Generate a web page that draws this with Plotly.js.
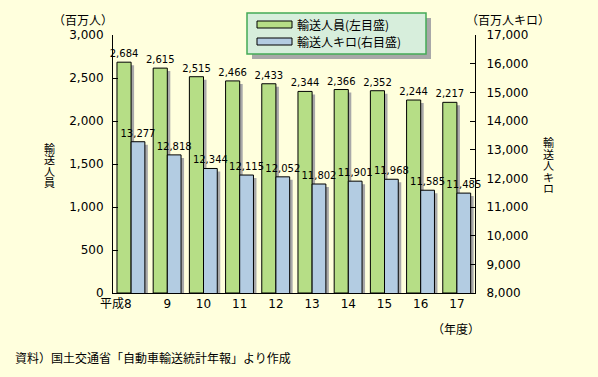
<!DOCTYPE html>
<html><head><meta charset="utf-8">
<script src="https://cdn.plot.ly/plotly-3.0.1.min.js"></script>
<style>html,body{margin:0;padding:0;background:#FFFFDD}</style>
</head><body>
<div id="chart" style="width:598px;height:377px"></div>
<script>
// ---- data ----
const categories = ['平成8','9','10','11','12','13','14','15','16','17'];
const passengers = [2684,2615,2515,2466,2433,2344,2366,2352,2244,2217];      // 百万人 (left axis)
const passengerKm = [13277,12818,12344,12115,12052,11802,11901,11968,11585,11485]; // 百万人キロ (right axis)
const seriesNames = ['輸送人員(左目盛)','輸送人キロ(右目盛)'];
const leftTitle = '輸送人員';
const rightTitle = '輸送人キロ';
const leftRange = [0,3000];
const rightRange = [8000,17000];

// ---- layout geometry ----
const W = 598, H = 377;
const M = {l:113, r:123, t:35, b:84};
const PW = W - M.l - M.r, PH = H - M.t - M.b;
const px = x => (x - M.l) / PW;
const py = y => (M.t + PH - y) / PH;
const FONT = 'DejaVu Sans, Noto Sans CJK JP, sans-serif';
const CJK = 'Noto Sans CJK JP, DejaVu Sans, sans-serif';
const GREEN = '#B6DE86', BLUE = '#B3CCE2', SHADOW = '#A8A8A8';

const xs = categories.map((c,i)=>i);
const tickText = categories.map((c,i)=> i===0 ? c + '\u2007'.repeat(4) : c);
const shadowDx = 3 / (PW / categories.length);
const dL = 3 * (leftRange[1]-leftRange[0]) / PH;
const dR = 3 * (rightRange[1]-rightRange[0]) / PH;
const fmt = v => v.toLocaleString('en-US');

const traces = [
  {type:'bar', x:xs, y:passengers.map(v=>v-dL), offset:-0.39+shadowDx, width:0.39,
   marker:{color:SHADOW}, hoverinfo:'skip', showlegend:false, yaxis:'y'},
  {type:'bar', name:seriesNames[0], x:xs, y:passengers, offset:-0.39, width:0.39,
   marker:{color:GREEN, line:{color:'#000', width:1}}, yaxis:'y',
   text:passengers.map(fmt), textposition:'outside', constraintext:'none', cliponaxis:false,
   textfont:{family:FONT, size:10, color:'#000'}, showlegend:false},
  {type:'bar', x:xs, y:passengerKm.map(v=>v-dR), offset:0+shadowDx, width:0.38,
   marker:{color:SHADOW}, hoverinfo:'skip', showlegend:false, yaxis:'y2'},
  {type:'bar', name:seriesNames[1], x:xs, y:passengerKm, offset:0, width:0.38,
   marker:{color:BLUE, line:{color:'#000', width:1}}, yaxis:'y2',
   text:passengerKm.map(fmt), textposition:'outside', constraintext:'none', cliponaxis:false,
   textfont:{family:FONT, size:10, color:'#000'}, showlegend:false}
];

const ann = (text, x, y, opts={}) => Object.assign({text, xref:'paper', yref:'paper', x:px(x), y:py(y),
  showarrow:false, xanchor:'center', yanchor:'middle', font:{family:CJK, size:12, color:'#000'}}, opts);

const annotations = [
  ann('（百万人）', 83, 20),
  ann('（百万人キロ）', 508, 20),
  ann('（年度）', 456, 328),
  ann('資料）国土交通省「自動車輸送統計年報」より作成', 13, 357, {xanchor:'left'}),
  ann(seriesNames[0], 295, 24.5, {xanchor:'left'}),
  ann(seriesNames[1], 295, 41.5, {xanchor:'left'})
];
// vertical (stacked) axis titles, one glyph per line, centred on yMid
const vstack = (str, x, yMid, step) => { const ch = Array.from(str);
  ch.forEach((c,i) => annotations.push(ann(c, x, yMid + step*(i-(ch.length-1)/2),
    {borderpad:0, font:{family:CJK, size:11, color:'#000'}}))); };
vstack(leftTitle, 49, 165, 11.5);
vstack(rightTitle, 548, 165, 11.5);

const rect = (x0,y0,x1,y1,fill,line,lw) => ({type:'rect', xref:'paper', yref:'paper',
  x0:px(x0), x1:px(x1), y0:py(y1), y1:py(y0), fillcolor:fill, line:{color:line, width:lw}, layer:'above'});
const shapes = [
  rect(252,18,431,59,SHADOW,SHADOW,0),
  rect(247,13,426,54,'#D7EEDC','#44AA55',1.5),
  rect(257,21,292,28,GREEN,'#000',1),
  rect(257,38,292,45,BLUE,'#000',1)
];

const layout = {
  width:W, height:H, margin:M,
  paper_bgcolor:'#FFFFDD', plot_bgcolor:'#FFFFDD',
  barmode:'overlay', showlegend:false,
  font:{family:FONT, size:12, color:'#000'},
  xaxis:{range:[-0.5, categories.length-0.5], tickvals:xs, ticktext:tickText, tickangle:0,
    showline:true, linecolor:'#000', linewidth:1, ticks:'', showgrid:false, zeroline:false,
    tickfont:{family:FONT, size:12}, fixedrange:true},
  yaxis:{range:leftRange, dtick:500, tickformat:',d', ticks:'inside', ticklen:5, tickcolor:'#000',
    showline:true, linecolor:'#000', linewidth:1, showgrid:false, zeroline:false,
    ticklabelstandoff:6, tickfont:{family:FONT, size:12}},
  yaxis2:{range:rightRange, dtick:1000, tickformat:',d', overlaying:'y', side:'right',
    ticks:'inside', ticklen:5, tickcolor:'#000', showline:true, linecolor:'#000', linewidth:1,
    showgrid:false, zeroline:false, ticklabelstandoff:8, tickfont:{family:FONT, size:12}},
  annotations, shapes
};

Plotly.newPlot('chart', traces, layout, {displayModeBar:false, staticPlot:true});
</script>
</body></html>
